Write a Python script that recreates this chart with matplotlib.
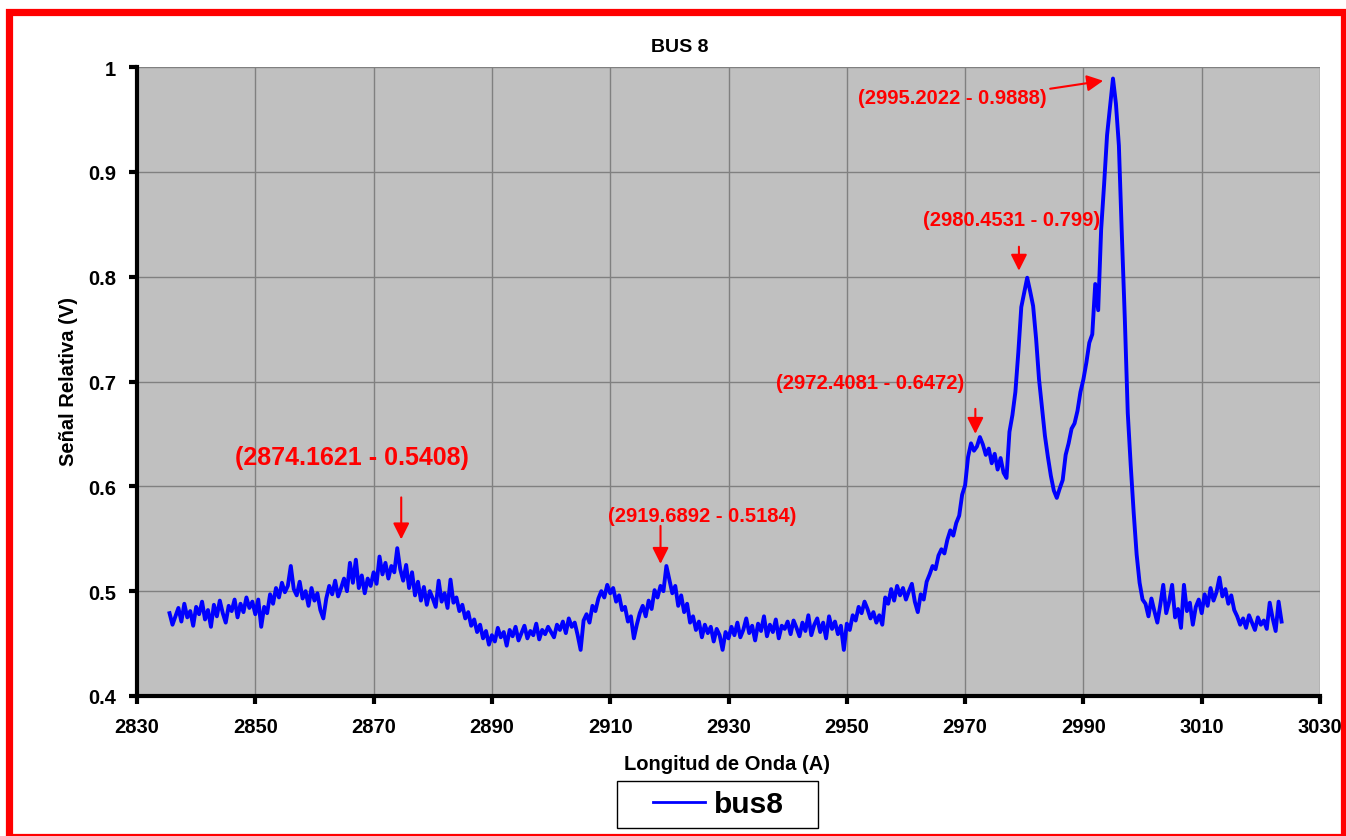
import numpy as np
import matplotlib
matplotlib.use("Agg")
import matplotlib.pyplot as plt
import matplotlib.patches as mpatches
import matplotlib.transforms as mtransforms

plt.rcParams['font.family'] = ['Liberation Sans', 'DejaVu Sans']
plt.rcParams['font.weight'] = 'bold'

# wavelength grid (A): first sample and step
wl_start = 2835.5
wl_step = 0.5

# relative signal (V), every 0.5 A
signal = [
    0.479, 0.468, 0.476, 0.484, 0.471, 0.488, 0.475, 0.481, 0.467, 0.485,
    0.478, 0.490, 0.473, 0.482, 0.466, 0.487, 0.476, 0.491, 0.479, 0.470,
    0.486, 0.481, 0.492, 0.475, 0.488, 0.480, 0.494, 0.484, 0.490, 0.478,
    # 2850.5 - 2860
    0.492, 0.466, 0.485, 0.479, 0.497, 0.488, 0.503, 0.494, 0.508, 0.499,
    0.505, 0.524, 0.502, 0.496, 0.509, 0.493, 0.500, 0.486, 0.503, 0.491,
    # 2860.5 - 2870
    0.498, 0.482, 0.474, 0.493, 0.505, 0.497, 0.510, 0.495, 0.503, 0.512,
    0.500, 0.527, 0.508, 0.530, 0.503, 0.515, 0.498, 0.512, 0.505, 0.518,
    # 2870.5 - 2880
    0.507, 0.533, 0.516, 0.527, 0.512, 0.524, 0.518, 0.541, 0.521, 0.510,
    0.525, 0.503, 0.518, 0.496, 0.509, 0.491, 0.504, 0.487, 0.500, 0.493,
    # 2880.5 - 2890
    0.485, 0.510, 0.490, 0.498, 0.484, 0.511, 0.489, 0.494, 0.481, 0.487,
    0.474, 0.480, 0.467, 0.473, 0.461, 0.468, 0.455, 0.462, 0.449, 0.458,
    # 2890.5 - 2900
    0.452, 0.465, 0.456, 0.461, 0.448, 0.463, 0.457, 0.466, 0.453, 0.460,
    0.467, 0.455, 0.462, 0.458, 0.469, 0.454, 0.463, 0.459, 0.466, 0.461,
    # 2900.5 - 2910
    0.456, 0.468, 0.463, 0.471, 0.460, 0.474, 0.466, 0.470, 0.458, 0.444,
    0.472, 0.478, 0.470, 0.486, 0.481, 0.493, 0.500, 0.494, 0.506, 0.498,
    # 2910.5 - 2920
    0.503, 0.490, 0.496, 0.482, 0.485, 0.471, 0.476, 0.455, 0.468, 0.479,
    0.486, 0.476, 0.491, 0.483, 0.501, 0.494, 0.505, 0.500, 0.524, 0.511,
    # 2920.5 - 2930
    0.498, 0.505, 0.486, 0.496, 0.480, 0.488, 0.470, 0.476, 0.463, 0.471,
    0.456, 0.468, 0.460, 0.466, 0.452, 0.464, 0.458, 0.444, 0.461, 0.455,
    # 2930.5 - 2940
    0.466, 0.458, 0.470, 0.456, 0.463, 0.474, 0.460, 0.467, 0.453, 0.469,
    0.462, 0.476, 0.457, 0.468, 0.461, 0.473, 0.455, 0.467, 0.464, 0.471,
    # 2940.5 - 2950
    0.459, 0.472, 0.465, 0.457, 0.470, 0.462, 0.477, 0.458, 0.468, 0.474,
    0.461, 0.470, 0.455, 0.476, 0.464, 0.471, 0.459, 0.467, 0.444, 0.469,
    # 2950.5 - 2960
    0.463, 0.477, 0.472, 0.485, 0.479, 0.490, 0.483, 0.474, 0.480, 0.470,
    0.477, 0.468, 0.494, 0.488, 0.502, 0.491, 0.505, 0.496, 0.503, 0.492,
    # 2960.5 - 2970
    0.500, 0.507, 0.490, 0.480, 0.497, 0.492, 0.509, 0.516, 0.524, 0.521,
    0.534, 0.540, 0.536, 0.549, 0.558, 0.553, 0.565, 0.572, 0.592, 0.601,
    # 2970.5 - 2980
    0.628, 0.641, 0.634, 0.638, 0.647, 0.640, 0.630, 0.636, 0.622, 0.631,
    0.616, 0.627, 0.613, 0.608, 0.652, 0.668, 0.690, 0.728, 0.771, 0.785,
    # 2980.5 - 2990
    0.799, 0.786, 0.772, 0.741, 0.702, 0.675, 0.648, 0.628, 0.610, 0.596,
    0.589, 0.598, 0.606, 0.630, 0.641, 0.655, 0.660, 0.672, 0.690, 0.702,
    # 2990.5 - 3000
    0.718, 0.737, 0.745, 0.793, 0.768, 0.845, 0.888, 0.935, 0.962, 0.989,
    0.965, 0.925, 0.840, 0.760, 0.670, 0.620, 0.575, 0.535, 0.508, 0.492,
    # 3000.5 - 3010
    0.488, 0.476, 0.493, 0.481, 0.470, 0.487, 0.506, 0.479, 0.490, 0.506,
    0.475, 0.483, 0.465, 0.506, 0.481, 0.489, 0.468, 0.485, 0.492, 0.479,
    # 3010.5 - 3020
    0.497, 0.486, 0.503, 0.491, 0.499, 0.513, 0.495, 0.502, 0.488, 0.496,
    0.482, 0.476, 0.468, 0.474, 0.465, 0.477, 0.470, 0.463, 0.475, 0.468,
    # 3020.5 - 3023.5
    0.472, 0.464, 0.489, 0.474, 0.462, 0.490, 0.471,
]
wavelength = wl_start + wl_step * np.arange(len(signal))

# labelled peaks
peak_x = [2874.1621, 2919.6892, 2972.4081, 2980.4531, 2995.2022]
peak_y = [0.5408, 0.5184, 0.6472, 0.799, 0.9888]

xticks = np.arange(2830, 3031, 20)
yticks = [0.4, 0.5, 0.6, 0.7, 0.8, 0.9, 1.0]
ytick_labels = ['0.4', '0.5', '0.6', '0.7', '0.8', '0.9', '1']

W, H = 1346, 837
fig = plt.figure(figsize=(W / 100, H / 100), dpi=100)
ax = fig.add_axes([137 / W, 1 - 697 / H, 1183 / W, 629 / H])
ax.set_facecolor('#C0C0C0')

ax.plot(wavelength, signal, color='#0000FF', lw=2.8, label='bus8')

ax.set_xlim(2830, 3030)
ax.set_ylim(0.4, 1.0)
ax.set_xticks(xticks)
ax.set_yticks(yticks, labels=ytick_labels)
ax.grid(True, color='#808080', lw=1)
ax.set_axisbelow(True)
for s in ['top', 'right']:
    ax.spines[s].set_visible(False)
for s in ['left', 'bottom']:
    ax.spines[s].set_linewidth(3)
ax.tick_params(length=6, width=3, labelsize=14.5, pad=9)
for lab in ax.get_xticklabels() + ax.get_yticklabels():
    lab.set_fontweight('bold')

fig.text(680 / W, 1 - 47 / H, 'BUS 8', ha='center', va='center',
         fontsize=14, fontweight='bold')
fig.text(727 / W, 1 - 765 / H, 'Longitud de Onda (A)', ha='center',
         va='center', fontsize=14.5, fontweight='bold')
fig.text(68 / W, 1 - 382 / H, 'Señal Relativa (V)', ha='center',
         va='center', rotation=90, fontsize=14.5, fontweight='bold')

# annotation offsets in pixels: arrow tip vs peak, tail vs tip, text vs peak
tip_off = [(3, 9), (-7, 8), (-4, 3), (-8, 7), (-11, -2)]
tail_off = [(0, 42), (0, 38), (0, 25), (0, 24), (-53, -8)]
text_off = [(-46, 91), (35, 56), (-109, 54), (-15, 58), (-162, -19)]
text_size = [18, 14.5, 14.5, 14.5, 14.5]

for i in range(len(peak_x)):
    label = '(%s - %s)' % (peak_x[i], peak_y[i])
    tr = mtransforms.offset_copy(ax.transData, fig=fig, x=tip_off[i][0],
                                 y=tip_off[i][1], units='dots')
    ax.annotate('', xy=(peak_x[i], peak_y[i]), xycoords=tr,
                xytext=tail_off[i], textcoords='offset pixels',
                arrowprops=dict(arrowstyle='-|>,head_length=0.7,head_width=0.35',
                                mutation_scale=14, color='red', lw=1.5,
                                shrinkA=0, shrinkB=0))
    ax.annotate(label, xy=(peak_x[i], peak_y[i]), xytext=text_off[i],
                textcoords='offset pixels', ha='center', va='center',
                color='red', fontsize=text_size[i], fontweight='bold')

# legend: entry without frame, box drawn separately to get the wide padding
fig.patches.append(mpatches.Rectangle((617 / W, 1 - 829 / H), 201 / W, 47 / H,
                                      transform=fig.transFigure, fill=True,
                                      facecolor='white', edgecolor='black',
                                      lw=1))
leg = fig.legend(loc='center', bbox_to_anchor=(718.5 / W, 1 - 805 / H),
                 frameon=False, prop={'size': 21.5, 'weight': 'bold'},
                 handlelength=1.75, handletextpad=0.3, borderpad=0,
                 borderaxespad=0)
for line in leg.get_lines():
    line.set_linewidth(2)

# red frame around the whole chart
fig.patches.append(mpatches.Rectangle((8.5 / W, 1 - 837.5 / H),
                                      1335.5 / W, 825 / H,
                                      transform=fig.transFigure, fill=False,
                                      edgecolor='#FF0000', lw=5.2))

fig.savefig('out.png', dpi=100)
